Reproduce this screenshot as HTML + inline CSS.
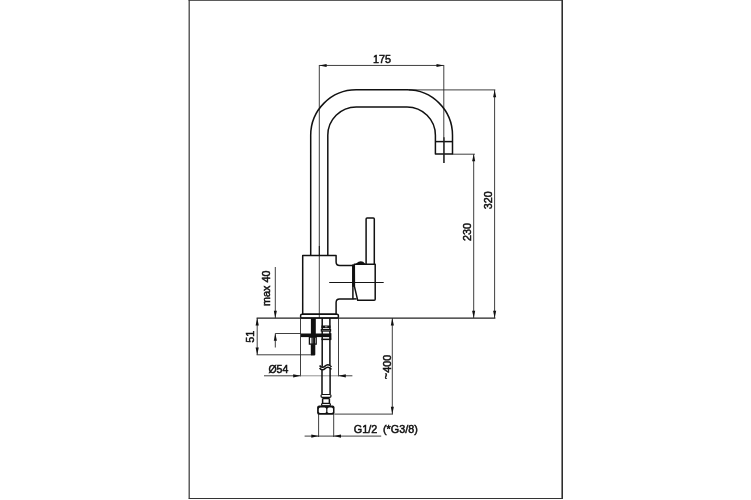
<!DOCTYPE html>
<html><head><meta charset="utf-8"><title>Drawing</title>
<style>
html,body{margin:0;padding:0;background:#fff;}
body{width:751px;height:500px;overflow:hidden;}
svg{display:block;will-change:transform;}
text{font-family:"Liberation Sans",sans-serif;font-size:10.8px;fill:#111;stroke:#111;stroke-width:0.5;}
.o{fill:none;stroke:#111;stroke-width:1.5;stroke-linejoin:round;stroke-linecap:butt;}
.t{fill:none;stroke:#2a2a2a;stroke-width:0.9;}
.k{fill:#111;stroke:none;}
</style></head>
<body>
<svg width="751" height="500" viewBox="0 0 751 500">
<rect x="0" y="0" width="751" height="500" fill="#fff"/>
<!-- frame -->
<path d="M189.2,0 V498.5" fill="none" stroke="#444" stroke-width="1.3"/>
<path d="M562.2,0 V498.9" fill="none" stroke="#222" stroke-width="1.5"/>
<path d="M188.6,0.3 H562.9 M188.6,498.5 H562.9" fill="none" stroke="#333" stroke-width="1"/>

<!-- thin dimension / centre lines -->
<g class="t">
<line x1="319.3" y1="65.45" x2="443.8" y2="65.45"/>
<line x1="319.3" y1="65" x2="319.3" y2="318"/>
<line x1="443.8" y1="65" x2="443.8" y2="163"/>
<line x1="319.4" y1="246" x2="319.4" y2="256" stroke="#222" stroke-width="1.2"/>
<line x1="409" y1="89.9" x2="495.3" y2="89.9"/>
<line x1="494.6" y1="89.9" x2="494.6" y2="318"/>
<line x1="452.5" y1="154.2" x2="474.9" y2="154.2"/>
<line x1="473.7" y1="154.2" x2="473.7" y2="318"/>
<line x1="256.6" y1="318.1" x2="495.4" y2="318.1" stroke="#222" stroke-width="1.1"/>
<line x1="329.2" y1="282.45" x2="383.7" y2="282.45" stroke="#151515" stroke-width="1.05"/>
<line x1="275.3" y1="267" x2="275.3" y2="318.1"/>
<line x1="275.3" y1="333.5" x2="275.3" y2="347.5"/>
<line x1="275.3" y1="333.5" x2="301" y2="333.5"/>
<line x1="257.2" y1="318.1" x2="257.2" y2="354.8"/>
<line x1="256.6" y1="354.8" x2="312" y2="354.8"/>
<line x1="300.5" y1="318" x2="300.5" y2="376.3"/>
<line x1="338.5" y1="318" x2="338.5" y2="376.3"/>
<line x1="264" y1="375.8" x2="300.5" y2="375.8"/>
<line x1="300.5" y1="375.8" x2="338.5" y2="375.8" stroke="#888"/>
<line x1="338.5" y1="375.8" x2="352.4" y2="375.8"/>
<line x1="392.3" y1="318" x2="392.3" y2="414.1"/>
<line x1="334.4" y1="414.1" x2="393" y2="414.1"/>
<line x1="318.6" y1="414" x2="318.6" y2="437"/>
<line x1="333.7" y1="414" x2="333.7" y2="437"/>
<line x1="304.6" y1="436.1" x2="381.2" y2="436.1"/>
</g>

<!-- arrows -->
<g class="k">
<polygon points="319.3,65.5 326.6,63.9 326.6,67.0"/>
<polygon points="443.8,65.5 436.5,63.9 436.5,67.0"/>
<polygon points="494.6,89.9 493.1,97.2 496.2,97.2"/>
<polygon points="494.6,318.1 493.1,310.8 496.2,310.8"/>
<polygon points="473.7,154.2 472.1,161.3 475.2,161.3"/>
<polygon points="473.7,318.1 472.1,310.8 475.2,310.8"/>
<polygon points="275.3,318.1 273.8,310.8 276.9,310.8"/>
<polygon points="275.3,333.5 273.8,340.8 276.9,340.8"/>
<polygon points="257.2,318.1 255.6,325.4 258.8,325.4"/>
<polygon points="257.2,354.8 255.6,347.5 258.8,347.5"/>
<polygon points="300.5,375.8 293.2,374.2 293.2,377.4"/>
<polygon points="338.5,375.8 345.8,374.2 345.8,377.4"/>
<polygon points="392.3,318.1 390.8,325.4 393.9,325.4"/>
<polygon points="392.3,414.1 390.8,406.8 393.9,406.8"/>
<polygon points="318.6,436.1 311.3,434.6 311.3,437.7"/>
<polygon points="333.7,436.1 341.0,434.6 341.0,437.7"/>
</g>

<!-- spout pipe -->
<path class="o" d="M310.7,255.5 V135.3 A45.5,45.5 0 0 1 356.2,89.8 H407.0 A45.5,45.5 0 0 1 452.5,135.3 V154.1 H435.4 V135.3 A28.4,28.4 0 0 0 407.0,106.9 H356.2 A28.4,28.4 0 0 0 327.8,135.3 V255.5"/>
<line class="o" x1="435.4" y1="141.6" x2="452.5" y2="141.6"/>
<line x1="444" y1="137.2" x2="444" y2="163" stroke="#222" stroke-width="1.3"/>

<!-- body -->
<path class="o" d="M302.7,314.3 V255.5 H336.1 V262 Q336.1,265.5 339.7,265.5 H352.9 V298.9 H339.6 Q336.1,298.9 336.1,302.4 V314.3 Z"/>
<rect class="o" x="300.6" y="314.3" width="37.8" height="3.8" rx="1.4"/>

<!-- handle -->
<path class="o" d="M354.3,264.3 H375.2 V299.3 Q375.2,300.3 374.2,300.3 H357.7 L354.4,286.4 Z"/>
<rect class="k" x="352.2" y="264.4" width="2.8" height="22.4"/>
<line class="o" x1="352.9" y1="298.9" x2="356.6" y2="298.9"/>
<path class="k" d="M354.4,264.4 Q356,263.6 356.8,263 Q358.4,261.2 360.8,261.2 Q363.4,261.2 364.9,263.4 L366,264.4 Z"/>
<path class="o" d="M366.1,264 V219 Q366.1,218 367.1,218 H373.3 Q374.3,218 374.3,219 V264"/>

<!-- under-counter fixing -->
<rect class="k" x="310.9" y="318" width="4.9" height="19"/>
<path class="k" d="M310.8,344 H315.3 V354.4 Q315.3,355.5 314.2,355.5 H311.9 Q310.8,355.5 310.8,354.4 Z"/>
<rect class="k" x="301" y="333.5" width="29.8" height="3.6"/>
<rect class="k" x="329.9" y="333.2" width="1.5" height="6.4"/>
<rect x="309.4" y="337.1" width="6.8" height="7" fill="#fff" stroke="#111" stroke-width="1.3"/>
<line x1="312" y1="337.1" x2="312" y2="344.1" stroke="#111" stroke-width="1.1"/>
<line x1="314.5" y1="337.1" x2="314.5" y2="344.1" stroke="#111" stroke-width="1.1"/>
<rect class="k" x="312.6" y="337.1" width="1.3" height="7" fill="#999"/>

<!-- hose -->
<path class="o" d="M322.2,318 V366.8 M329.9,318 V365 M322,369.6 V394.6 M330.1,367.6 V394.6"/>
<path class="o" stroke-width="1.1" d="M319.6,365.5 C321,367.7 323.5,367.5 325,366.1 S329,363.5 331.5,366.9 M319.6,368 C321,370.2 323.5,370 325,368.6 S329,366 331.5,369.4"/>
<rect x="321.4" y="325.5" width="9.1" height="2.6" fill="#111"/>
<rect x="325" y="326.3" width="2.4" height="1" fill="#aaa"/>
<rect x="321.3" y="329.5" width="9.3" height="1.6" fill="#999" stroke="#111" stroke-width="1.1"/>
<rect x="321.4" y="338.6" width="9.8" height="1.5" fill="#111"/>
<!-- hose end -->
<rect x="321" y="394.5" width="10" height="2.8" rx="1.3" fill="#fff" stroke="#111" stroke-width="1.2"/>
<path class="o" stroke-width="1.3" d="M322.6,398.6 V403.4 M329.4,398.6 V403.4 M322.6,398.6 H329.4"/>
<rect x="321.6" y="403.4" width="8.8" height="2.4" rx="1.1" fill="#eee" stroke="#111" stroke-width="1.2"/>
<rect class="k" x="317.1" y="405.6" width="17.4" height="9.1" rx="2"/>
<rect x="318.8" y="407.4" width="7.4" height="5.7" rx="1.6" fill="#fff"/>
<rect x="327.4" y="407.4" width="5.6" height="5.7" rx="1.6" fill="#fff"/>

<!-- labels -->
<text x="382.1" y="63" text-anchor="middle">175</text>
<text transform="translate(491.9,200.2) rotate(-90)" text-anchor="middle">320</text>
<text transform="translate(470.9,232) rotate(-90)" text-anchor="middle">230</text>
<text transform="translate(269.9,288.2) rotate(-90)" text-anchor="middle">max 40</text>
<text transform="translate(254.4,336.8) rotate(-90)" text-anchor="middle">51</text>
<text x="268.4" y="372.9" style="font-size:10.5px">Ø54</text>
<text transform="translate(391.1,367) rotate(-90)" text-anchor="middle"><tspan dy="-1.2">~</tspan><tspan dy="1.2">400</tspan></text>
<text x="353.8" y="433.1">G1/2</text>
<text x="383" y="433.1">(*G3/8)</text>
</svg>
</body></html>
